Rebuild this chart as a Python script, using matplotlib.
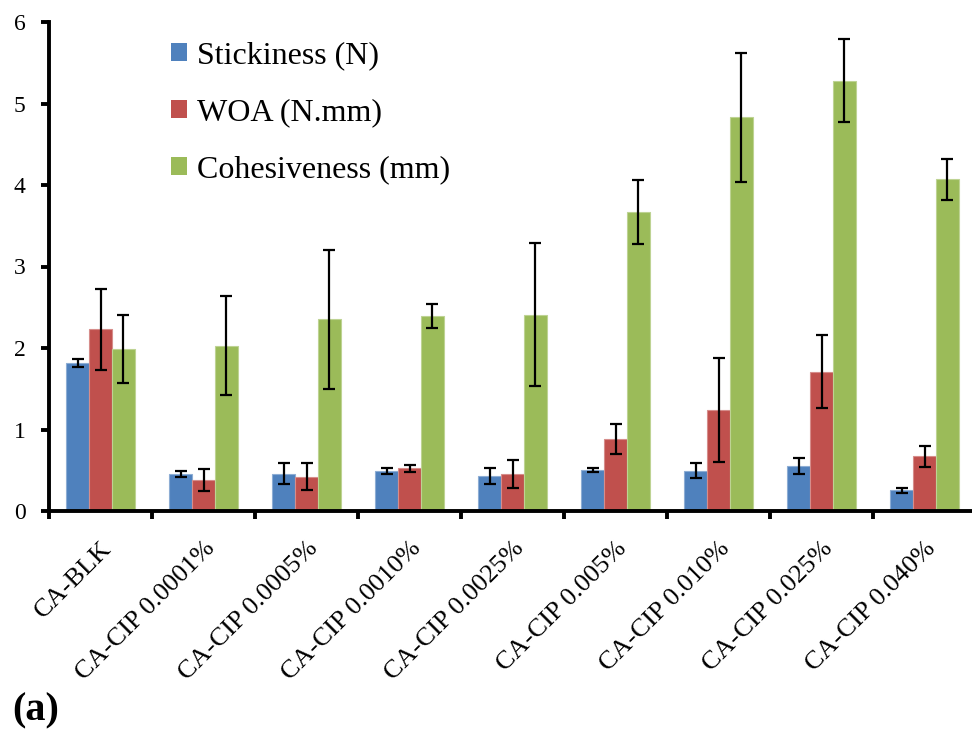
import matplotlib
matplotlib.use("Agg")
import matplotlib.pyplot as plt
import numpy as np
from matplotlib.colors import to_rgb

plt.rcParams['font.family'] = ['Liberation Serif', 'DejaVu Serif']

categories = ["CA-BLK", "CA-CIP 0.0001%", "CA-CIP 0.0005%", "CA-CIP 0.0010%",
              "CA-CIP 0.0025%", "CA-CIP 0.005%", "CA-CIP 0.010%", "CA-CIP 0.025%",
              "CA-CIP 0.040%"]
series_names = ["Stickiness (N)", "WOA (N.mm)", "Cohesiveness (mm)"]

stickiness = [1.82, 0.45, 0.46, 0.49, 0.43, 0.50, 0.495, 0.55, 0.255]
stickiness_err = [0.05, 0.035, 0.125, 0.04, 0.095, 0.025, 0.09, 0.10, 0.03]
woa = [2.23, 0.38, 0.42, 0.525, 0.455, 0.885, 1.24, 1.71, 0.67]
woa_err = [0.50, 0.14, 0.165, 0.045, 0.17, 0.18, 0.64, 0.45, 0.13]
cohesiveness = [1.99, 2.03, 2.35, 2.39, 2.41, 3.67, 4.83, 5.28, 4.07]
cohesiveness_err = [0.42, 0.61, 0.855, 0.145, 0.88, 0.39, 0.79, 0.51, 0.25]

colors = ["#4F81BD", "#C0504D", "#9BBB59"]

def lighten(c, f=0.35):
    r, g, b = to_rgb(c)
    return (r + (1 - r) * f, g + (1 - g) * f, b + (1 - b) * f)

fig = plt.figure(figsize=(9.72, 7.29), dpi=100)
ax = fig.add_axes([49 / 972, 1 - 511 / 729, 927 / 972, (511 - 22) / 729])

x = np.arange(len(categories))
w = 0.222
vals = [stickiness, woa, cohesiveness]
errs = [stickiness_err, woa_err, cohesiveness_err]
for i, (v, e, c, n) in enumerate(zip(vals, errs, colors, series_names)):
    ax.bar(x + (i - 1) * w, v, width=w, color=c, edgecolor=lighten(c), linewidth=0.8,
           label=n, zorder=2)
    ax.errorbar(x + (i - 1) * w, v, yerr=e, fmt='none', ecolor='black', elinewidth=1.6,
                capsize=4.5, capthick=1.6, zorder=3)

ax.set_xlim(-0.5, len(categories) - 0.5)
ax.set_ylim(0, 6)
ax.set_yticks(range(0, 7))
ax.set_xticks(x)
ax.set_xticklabels(categories, rotation=45, ha='right', va='top', rotation_mode='anchor')
ax.set_xticks(np.arange(-0.5, len(categories), 1.0), minor=True)

for s in ['top', 'right']:
    ax.spines[s].set_visible(False)
for s in ['left', 'bottom']:
    ax.spines[s].set_linewidth(2.8)
    ax.spines[s].set_zorder(4)

ax.tick_params(axis='y', direction='out', length=6, width=2.8, labelsize=17, pad=11)
ax.tick_params(axis='x', which='major', length=0, labelsize=19, pad=19)
ax.tick_params(axis='x', which='minor', direction='out', length=6, width=2.8)

leg = ax.legend(loc='upper left', bbox_to_anchor=(171 / 972, 1 - 41 / 729),
                bbox_transform=fig.transFigure, frameon=False, fontsize=23,
                handlelength=0.5, handleheight=0.5, handletextpad=0.3,
                labelspacing=0.88, borderpad=0, borderaxespad=0)
for h in leg.legend_handles:
    h.set_linewidth(0)

fig.text(12 / 972, 1 - 720 / 729, "(a)", fontsize=29, fontweight='bold',
         va='baseline', ha='left')

fig.savefig("out.png", dpi=100)
